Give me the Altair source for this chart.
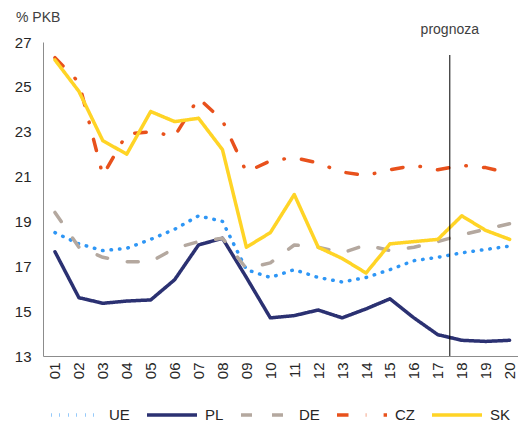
import altair as alt
import pandas as pd

categories = ["01", "02", "03", "04", "05", "06", "07", "08", "09", "10",
              "11", "12", "13", "14", "15", "16", "17", "18", "19", "20"]
series_names = ["UE", "PL", "DE", "CZ", "SK"]
ue = [18.5, 18.0, 17.7, 17.8, 18.2, 18.65, 19.25, 19.0, 16.85, 16.5,
      16.85, 16.5, 16.3, 16.5, 16.85, 17.25, 17.4, 17.6, 17.75, 17.9]
pl = [17.65, 15.6, 15.35, 15.45, 15.5, 16.4, 17.95, 18.25, 16.5, 14.7,
      14.8, 15.05, 14.7, 15.1, 15.55, 14.7, 13.95, 13.7, 13.65, 13.7]
de = [19.4, 17.85, 17.4, 17.2, 17.2, 17.8, 18.1, 18.25, 16.9, 17.15,
      17.95, 17.85, 17.6, 17.95, 17.7, 17.85, 18.1, 18.4, 18.65, 18.9]
cz = [26.3, 25.2, 21.05, 22.9, 23.0, 22.8, 24.5, 23.5, 21.2, 21.7,
      21.85, 21.6, 21.2, 21.05, 21.3, 21.5, 21.3, 21.5, 21.4, 21.15]
sk = [26.2, 24.8, 22.6, 22.0, 23.9, 23.45, 23.6, 22.2, 17.85, 18.5,
      20.2, 17.85, 17.35, 16.7, 18.0, 18.1, 18.2, 19.25, 18.6, 18.2]
forecast_start = 17.5
forecast_label = "prognoza"
y_title = "% PKB"
y_ticks = [13, 15, 17, 19, 21, 23, 25, 27]

colors = ["#2E96F5", "#2B3172", "#B4A89F", "#E8511C", "#FFD426"]
dashes = [[0.5, 8], [1, 0], [11, 20], [11.5, 17.3, 0.5, 17.3], [1, 0]]

rows = []
for name, vals in zip(series_names, [ue, pl, de, cz, sk]):
    for i, (c, v) in enumerate(zip(categories, vals)):
        rows.append({"series": name, "idx": i + 1, "cat": c, "value": v})
df = pd.DataFrame(rows)

FONT = "Liberation Sans"
W, H = 475, 314

legend = alt.Legend(orient="none", legendX=6, legendY=346, direction="horizontal",
                    title=None, symbolType="stroke", symbolSize=2500,
                    symbolStrokeWidth=3.5, labelFontSize=15, labelFont=FONT,
                    labelColor="#262626", columnPadding=10, labelOffset=6)

lines = alt.Chart(df).mark_line(strokeWidth=3.5, strokeCap="round", strokeJoin="round").encode(
    x=alt.X("idx:Q", scale=alt.Scale(domain=[0.5, 20.35], nice=False, zero=False),
            axis=alt.Axis(values=list(range(1, 21)), tickCount=40,
                          labelExpr="datum.value < 10 ? '0' + datum.value : '' + datum.value",
                          labelAngle=-90, labelOverlap=False, ticks=False, labelPadding=6,
                          grid=False, title=None,
                          domainColor="#8c8c8c", labelFontSize=15, labelFont=FONT,
                          labelColor="#262626")),
    y=alt.Y("value:Q", scale=alt.Scale(domain=[13, 27], nice=False, zero=False),
            axis=alt.Axis(values=y_ticks, format="d", ticks=False, labelPadding=12,
                          grid=False, title=None, labelOverlap=False,
                          domainColor="#8c8c8c", labelFontSize=15, labelFont=FONT,
                          labelColor="#262626")),
    color=alt.Color("series:N", scale=alt.Scale(domain=series_names, range=colors), legend=legend),
    strokeDash=alt.StrokeDash("series:N", scale=alt.Scale(domain=series_names, range=dashes), legend=legend),
    order=alt.Order("idx:Q"),
)

fdf = pd.DataFrame({"x": [forecast_start], "label": [forecast_label]})
rule = alt.Chart(fdf).mark_rule(color="#000000", strokeWidth=1).encode(
    x="x:Q", y=alt.value(13), y2=alt.value(H))
ftext = alt.Chart(fdf).mark_text(align="center", baseline="middle", fontSize=14,
                                 font=FONT, color="#404040").encode(
    x="x:Q", y=alt.value(-12), text="label:N")
ytext = alt.Chart(fdf).mark_text(align="left", baseline="middle", fontSize=14,
                                 font=FONT, color="#404040").encode(
    x=alt.value(-27), y=alt.value(-24), text=alt.value(y_title))

chart = alt.layer(lines, rule, ftext, ytext).properties(
    width=W, height=H,
    autosize=alt.AutoSizeParams(type="none"),
    padding={"left": 35, "top": 34, "right": 0, "bottom": 68},
).configure_view(stroke=None)

chart.save("out.html", embed_options={"renderer": "svg", "actions": False})
